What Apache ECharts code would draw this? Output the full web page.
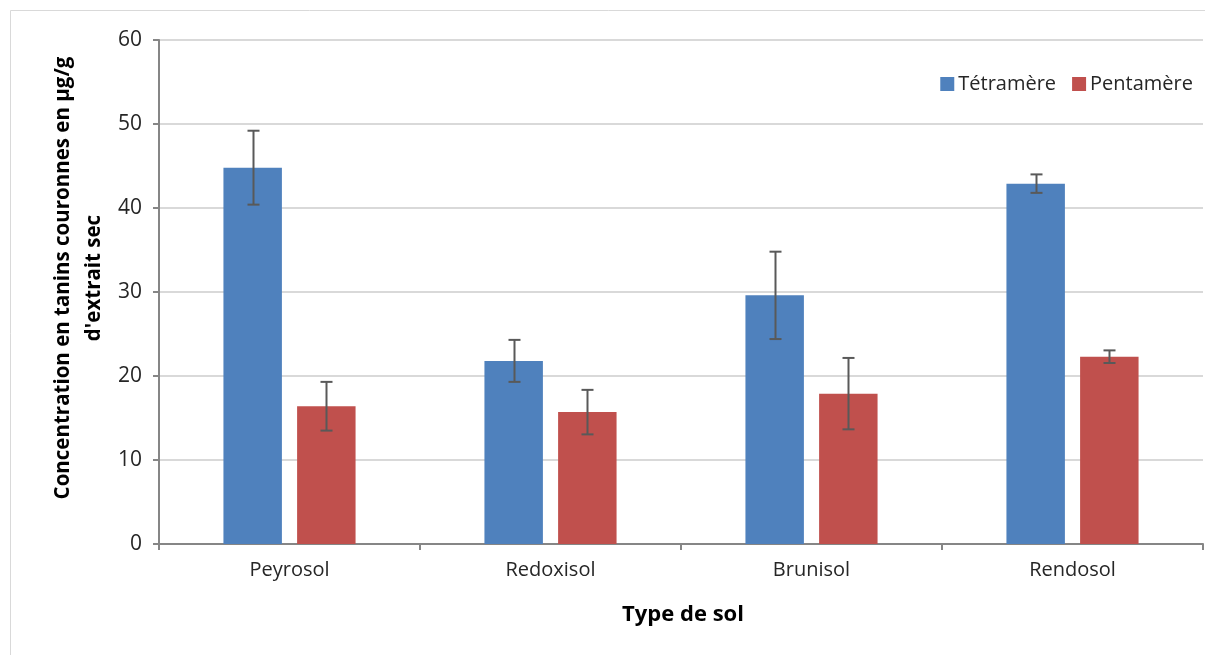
<!DOCTYPE html>
<html>
<head>
<meta charset="utf-8">
<script src="https://cdn.jsdelivr.net/npm/echarts@6/dist/echarts.min.js"></script>
<style>
html,body{margin:0;padding:0;background:#fff;}
#chart{width:1205px;height:655px;}
</style>
</head>
<body>
<div id="chart"></div>
<script>
const categories = ['Peyrosol', 'Redoxisol', 'Brunisol', 'Rendosol'];
const tetramere = [44.8, 21.8, 29.6, 42.9];
const tetramereErr = [4.4, 2.5, 5.2, 1.1];
const pentamere = [16.4, 15.7, 17.9, 22.3];
const pentamereErr = [2.9, 2.65, 4.25, 0.75];
const yTicks = [0, 10, 20, 30, 40, 50, 60];
const seriesNames = ['Tétramère', 'Pentamère'];
const yTitle = "Concentration en tanins couronnes en µg/g\nd'extrait sec";
const xTitle = 'Type de sol';

const FONT = '"Open Sans", "Noto Sans", sans-serif';
const BAR_W = 0.224;
const GAP = 0.26;

function errData(vals, errs) {
  return vals.map((v, i) => [i, v - errs[i], v + errs[i]]);
}

function makeErr(sign) {
  return function (params, api) {
    const band = api.size([1, 0])[0];
    const bw = band * BAR_W;
    const off = sign * (bw + bw * GAP) / 2;
    const lo = api.coord([api.value(0), api.value(1)]);
    const hi = api.coord([api.value(0), api.value(2)]);
    const x = Math.round(lo[0] + off) + 0.5;
    const cap = 6;
    const style = { stroke: '#595959', lineWidth: 2 };
    return {
      type: 'group',
      children: [
        { type: 'line', shape: { x1: x, y1: hi[1], x2: x, y2: lo[1] }, style },
        { type: 'line', shape: { x1: x - cap, y1: hi[1], x2: x + cap, y2: hi[1] }, style },
        { type: 'line', shape: { x1: x - cap, y1: lo[1], x2: x + cap, y2: lo[1] }, style }
      ]
    };
  };
}

const chart = echarts.init(document.getElementById('chart'));
chart.setOption({
  animation: false,
  backgroundColor: '#fff',
  textStyle: { fontFamily: FONT },
  grid: { left: 159, right: 2, top: 40, bottom: 111, containLabel: false },
  legend: {
    data: seriesNames,
    right: 7, top: 69,
    itemWidth: 14, itemHeight: 14, itemGap: 16,
    icon: 'rect',
    textStyle: { fontFamily: FONT, fontSize: 20, color: '#262626', padding: [0, 0, 0, -1] }
  },
  graphic: [
    { type: 'rect', shape: { x: 10.5, y: 10.5, width: 1200, height: 660 }, style: { fill: 'none', stroke: '#d9d9d9', lineWidth: 1 }, silent: true },
    { type: 'text', x: 79, y: 278, rotation: Math.PI / 2,
      style: { text: yTitle, fontFamily: FONT, fontSize: 20.5, fontWeight: 'bold', fill: '#000', align: 'center', verticalAlign: 'middle', lineHeight: 31 } },
    { type: 'text', x: 683, y: 615,
      style: { text: xTitle, fontFamily: FONT, fontSize: 22, fontWeight: 'bold', fill: '#000', align: 'center', verticalAlign: 'middle' } }
  ],
  xAxis: {
    type: 'category',
    data: categories,
    axisLine: { lineStyle: { color: '#868686', width: 2 } },
    axisTick: { show: true, length: 6, lineStyle: { color: '#868686', width: 2 } },
    axisLabel: { fontFamily: FONT, fontSize: 20, color: '#262626', margin: 16 }
  },
  yAxis: {
    type: 'value',
    min: 0, max: 60, interval: 10,
    axisLine: { show: true, lineStyle: { color: '#868686', width: 2 } },
    axisTick: { show: true, length: 6, lineStyle: { color: '#868686', width: 2 } },
    splitLine: { lineStyle: { color: '#d9d9d9', width: 2 } },
    axisLabel: { fontFamily: FONT, fontSize: 21, color: '#262626', margin: 17,
      formatter: v => yTicks.includes(v) ? String(v) : '' }
  },
  series: [
    { name: seriesNames[0], type: 'bar', data: tetramere, barWidth: (BAR_W * 100) + '%', barGap: (GAP * 100) + '%',
      itemStyle: { color: '#4f81bd' } },
    { name: seriesNames[1], type: 'bar', data: pentamere, barWidth: (BAR_W * 100) + '%', barGap: (GAP * 100) + '%',
      itemStyle: { color: '#c0504d' } },
    { type: 'custom', data: errData(tetramere, tetramereErr), renderItem: makeErr(-1), z: 10, silent: true },
    { type: 'custom', data: errData(pentamere, pentamereErr), renderItem: makeErr(1), z: 10, silent: true }
  ]
});
</script>
</body>
</html>
